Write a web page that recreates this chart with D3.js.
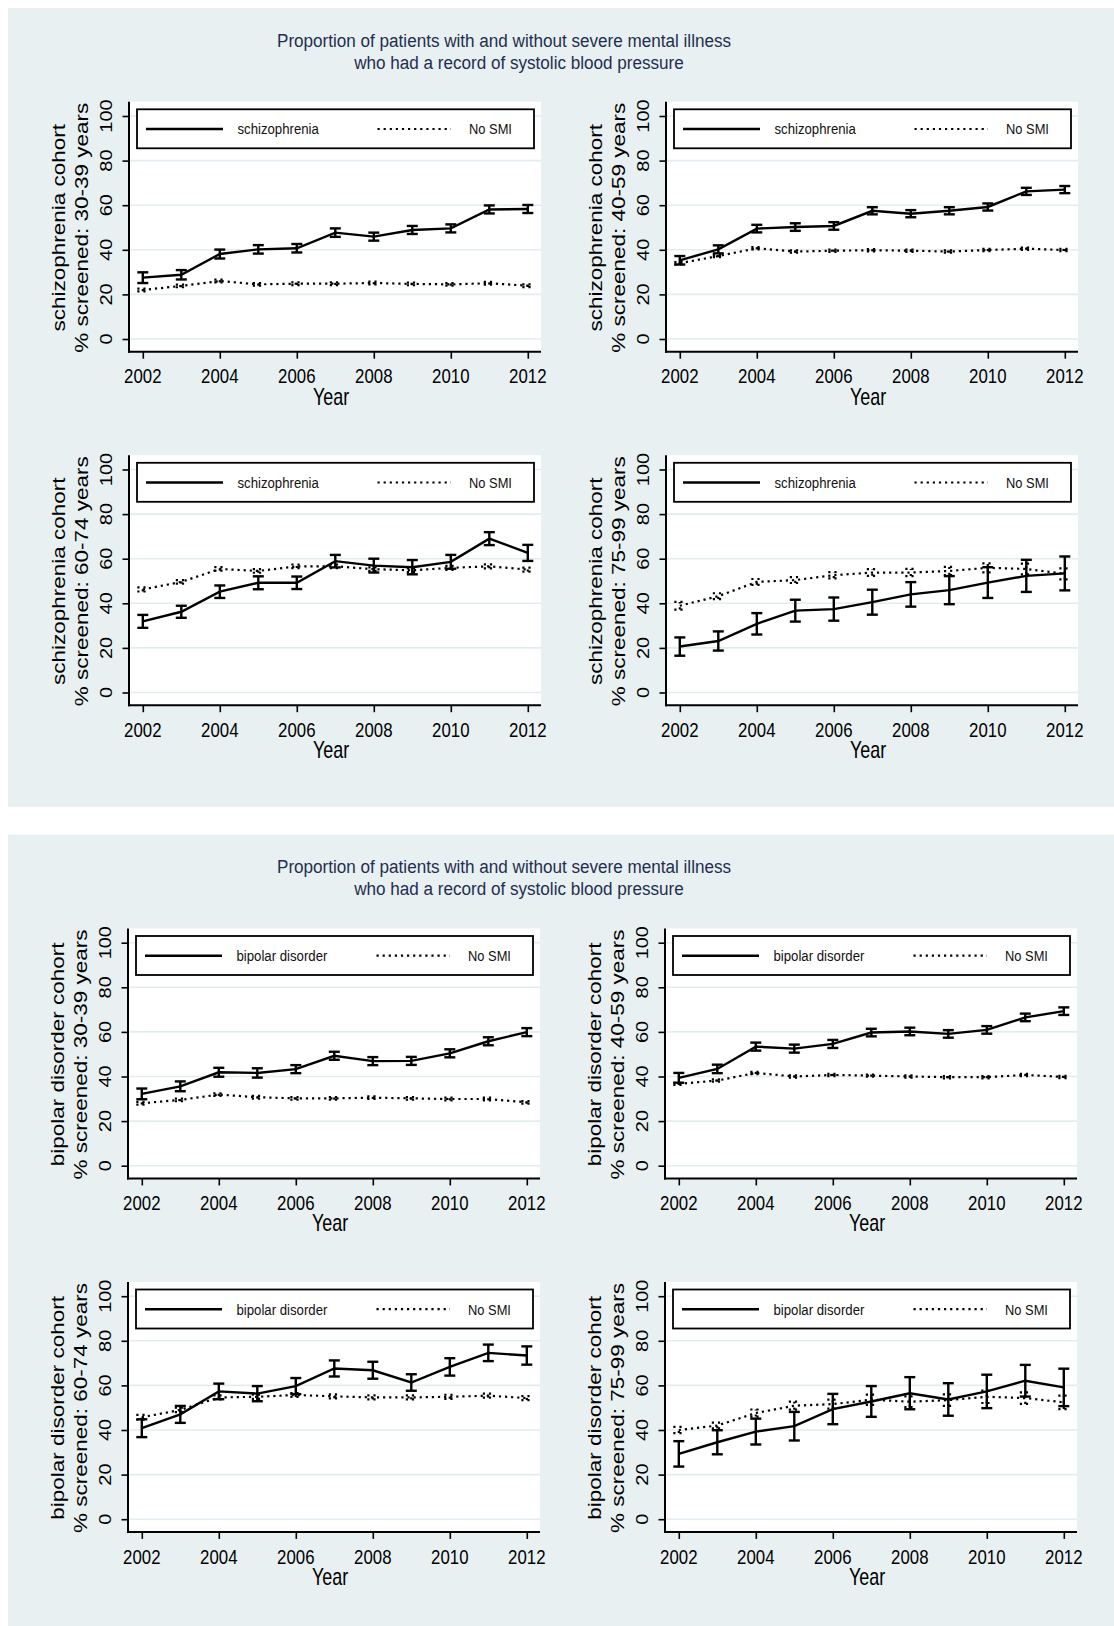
<!DOCTYPE html>
<html><head><meta charset="utf-8">
<script src="https://cdn.jsdelivr.net/npm/d3@7"></script>
<style>body{margin:0;background:#fff}svg{display:block}text{font-family:"Liberation Sans",Arial,sans-serif}</style>
</head><body><svg id="c" width="1114" height="1626"></svg>
<script>
// ---------------- data ----------------
const years = [2002, 2003, 2004, 2005, 2006, 2007, 2008, 2009, 2010, 2011, 2012];
const xTickValues = [2002, 2004, 2006, 2008, 2010, 2012];
const yTickValues = [0, 20, 40, 60, 80, 100];
const titleLines = ["Proportion of patients with and without severe mental illness",
                    "who had a record of systolic blood pressure"];
const conditions = ["schizophrenia", "bipolar disorder"];
const comparisonLabel = "No SMI";
const ageGroups = ["30-39", "40-59", "60-74", "75-99"];
const xTitle = "Year";

// schizophrenia cohort (% screened) and 95% CI half-widths
const schiz3039 = [27.5, 28.8, 38.1, 40.2, 40.7, 47.7, 45.9, 48.9, 49.6, 58.1, 58.3];
const schiz3039Err = [2.4, 2.1, 2.0, 1.9, 1.9, 1.9, 1.8, 1.8, 1.8, 1.8, 1.8];
const noSmiSchiz3039 = [22.0, 23.8, 26.0, 24.5, 24.8, 24.8, 25.1, 24.7, 24.5, 25.0, 23.9];
const noSmiSchiz3039Err = [0.6, 0.6, 0.6, 0.6, 0.6, 0.6, 0.6, 0.6, 0.6, 0.6, 0.6];

const schiz4059 = [35.3, 40.2, 49.5, 50.2, 50.7, 57.5, 56.2, 57.5, 59.2, 66.2, 67.0];
const schiz4059Err = [1.9, 1.8, 1.7, 1.7, 1.7, 1.6, 1.6, 1.6, 1.6, 1.6, 1.6];
const noSmiSchiz4059 = [34.0, 37.2, 40.7, 39.2, 39.6, 39.8, 39.6, 39.2, 39.9, 40.5, 39.9];
const noSmiSchiz4059Err = [0.5, 0.5, 0.5, 0.5, 0.5, 0.5, 0.5, 0.5, 0.5, 0.5, 0.5];

const schiz6074 = [31.9, 36.2, 45.2, 49.2, 49.2, 58.9, 56.9, 56.2, 58.6, 69.0, 62.6];
const schiz6074Err = [2.9, 2.7, 2.8, 2.9, 2.8, 2.8, 3.1, 3.2, 3.1, 2.9, 3.6];
const noSmiSchiz6074 = [46.2, 49.6, 55.4, 54.5, 56.6, 56.6, 55.3, 54.8, 55.9, 56.6, 55.1];
const noSmiSchiz6074Err = [0.9, 0.8, 0.8, 0.8, 0.8, 0.8, 0.8, 0.8, 0.9, 0.9, 0.9];

const schiz7599 = [20.6, 23.1, 30.8, 36.7, 37.4, 40.5, 44.0, 45.9, 49.3, 52.3, 53.4];
const schiz7599Err = [4.1, 4.3, 4.8, 4.9, 5.2, 5.6, 5.5, 6.3, 6.9, 7.2, 7.6];
const noSmiSchiz7599 = [38.9, 43.2, 49.6, 50.4, 52.6, 53.8, 53.8, 54.5, 55.9, 55.4, 53.2];
const noSmiSchiz7599Err = [1.7, 1.3, 1.3, 1.3, 1.4, 1.5, 1.6, 1.8, 2.0, 2.4, 2.5];

// bipolar disorder cohort
const bipolar3039 = [32.2, 35.6, 41.9, 41.6, 43.3, 49.3, 46.9, 47.0, 50.4, 55.8, 59.9];
const bipolar3039Err = [2.4, 2.2, 2.0, 2.1, 1.8, 1.8, 1.8, 1.8, 1.8, 1.8, 1.8];
const noSmiBipolar3039 = [28.0, 29.5, 31.9, 30.7, 30.2, 30.2, 30.5, 30.2, 29.9, 29.9, 28.4];
const noSmiBipolar3039Err = [0.6, 0.6, 0.6, 0.6, 0.6, 0.6, 0.6, 0.6, 0.6, 0.6, 0.6];

const bipolar4059 = [39.4, 43.4, 53.4, 52.5, 54.6, 59.7, 60.2, 59.1, 60.9, 66.5, 69.3];
const bipolar4059Err = [2.2, 1.9, 1.8, 1.8, 1.8, 1.7, 1.7, 1.7, 1.7, 1.7, 1.7];
const noSmiBipolar4059 = [36.7, 38.2, 41.6, 40.0, 40.7, 40.4, 40.0, 39.7, 39.7, 40.7, 39.8];
const noSmiBipolar4059Err = [0.5, 0.5, 0.5, 0.5, 0.5, 0.5, 0.5, 0.5, 0.5, 0.5, 0.5];

const bipolar6074 = [40.8, 47.0, 57.3, 56.3, 59.7, 67.6, 66.8, 61.3, 68.3, 74.6, 73.4];
const bipolar6074Err = [4.0, 3.8, 3.5, 3.4, 3.6, 3.6, 3.8, 3.7, 3.9, 3.7, 4.1];
const noSmiBipolar6074 = [45.7, 49.0, 54.6, 54.9, 55.7, 55.1, 54.6, 54.6, 54.9, 55.4, 54.3];
const noSmiBipolar6074Err = [1.1, 1.0, 0.9, 0.9, 0.9, 0.9, 0.9, 0.9, 0.9, 0.9, 0.9];

const bipolar7599 = [29.3, 34.5, 39.3, 41.7, 49.4, 52.8, 56.5, 53.7, 57.3, 62.1, 59.1];
const bipolar7599Err = [5.7, 5.4, 5.8, 6.4, 6.8, 6.9, 7.2, 7.3, 7.5, 7.1, 8.4];
const noSmiBipolar7599 = [40.0, 42.0, 47.6, 50.9, 51.6, 53.6, 52.7, 53.4, 54.9, 54.3, 52.4];
const noSmiBipolar7599Err = [1.4, 1.3, 1.6, 1.8, 2.0, 2.3, 2.4, 2.6, 2.8, 2.6, 3.0];

// ---------------- layout ----------------
const svg = d3.select('#c');
const BG = '#e8f0f2', GRID = '#e3ecef', TITLE_COL = '#1f2e4f';
const PW = 412, PH = 250;
const DOT = '2.2,3.9';

function hText(parent, x, y, str, size, sx, anchor, fill) {
  return parent.append('text')
    .attr('transform', `translate(${x},${y}) scale(${sx},1)`)
    .attr('text-anchor', anchor).attr('font-size', size).attr('fill', fill || '#000').text(str);
}
function vText(parent, x, y, str, size, sx, fill) {
  return parent.append('text')
    .attr('transform', `translate(${x},${y}) scale(${sx},1) rotate(-90)`)
    .attr('text-anchor', 'middle').attr('dy', '0.35em')
    .attr('font-size', size).attr('fill', fill || '#000').text(str);
}

function panel(L, T, condition, age, smi, smiErr, nos, nosErr) {
  const g = svg.append('g');
  const x = d3.scaleLinear().domain([2002, 2012]).range([L + 13.8, L + 398.8]);
  const y = d3.scaleLinear().domain([0, 100]).range([T + 237.3, T + 14.3]);

  g.append('rect').attr('x', L).attr('y', T).attr('width', PW).attr('height', PH).attr('fill', '#fff');
  // gridlines
  g.selectAll('.grid').data(yTickValues).join('line')
    .attr('x1', L).attr('x2', L + PW).attr('y1', d => y(d)).attr('y2', d => y(d))
    .attr('stroke', GRID).attr('stroke-width', 1.6);

  // y axis ticks
  const ya = g.append('g').attr('transform', `translate(${L},0)`)
    .call(d3.axisLeft(y).tickValues(yTickValues).tickSize(6.5).tickSizeOuter(0).tickFormat(''));
  ya.select('.domain').remove();
  ya.selectAll('line').attr('stroke', '#000').attr('stroke-width', 1.6);
  // x axis ticks
  const xa = g.append('g').attr('transform', `translate(0,${T + PH})`)
    .call(d3.axisBottom(x).tickValues(xTickValues).tickSize(7).tickSizeOuter(0).tickFormat(''));
  xa.select('.domain').remove();
  xa.selectAll('line').attr('stroke', '#000').attr('stroke-width', 1.6);

  // axis lines
  g.append('line').attr('x1', L).attr('x2', L).attr('y1', T).attr('y2', T + PH + 1)
    .attr('stroke', '#000').attr('stroke-width', 2);
  g.append('line').attr('x1', L - 1).attr('x2', L + PW).attr('y1', T + PH).attr('y2', T + PH)
    .attr('stroke', '#000').attr('stroke-width', 2);

  // tick labels
  yTickValues.forEach(v => vText(g, L - 23, y(v), v, 20, 0.84));
  xTickValues.forEach(v => hText(g, x(v), T + 281.6, v, 21, 0.8, 'middle'));
  hText(g, L + 202, T + 303, xTitle, 23, 0.78, 'middle');
  vText(g, L - 70.2, T + 126, `${condition} cohort`, 22.5, 0.84);
  vText(g, L - 47.5, T + 126, `% screened: ${age} years`, 22.5, 0.84);

  // legend
  const lg = g.append('g');
  lg.append('rect').attr('x', L + 8).attr('y', T + 7.6).attr('width', 397).attr('height', 39)
    .attr('fill', '#fff').attr('stroke', '#000').attr('stroke-width', 1.8);
  const ly = T + 27.3;
  lg.append('line').attr('x1', L + 17).attr('x2', L + 94).attr('y1', ly).attr('y2', ly)
    .attr('stroke', '#000').attr('stroke-width', 2.5);
  hText(lg, L + 108.5, ly + 5.3, condition, 15, 0.88, 'start', '#111');
  lg.append('line').attr('x1', L + 248.5).attr('x2', L + 322).attr('y1', ly).attr('y2', ly)
    .attr('stroke', '#000').attr('stroke-width', 2.2).attr('stroke-dasharray', DOT);
  hText(lg, L + 340, ly + 5.3, comparisonLabel, 15, 0.86, 'start', '#111');

  const line = d3.line().x((d, i) => x(years[i])).y(d => y(d));
  function series(vals, errs, dashed, w) {
    const s = g.append('g').attr('stroke', '#000').attr('fill', 'none').attr('stroke-width', w);
    if (dashed) s.attr('stroke-dasharray', DOT);
    s.append('path').attr('d', line(vals));
    const eb = s.selectAll('.eb').data(vals).join('g');
    eb.append('line').attr('x1', (d, i) => x(years[i])).attr('x2', (d, i) => x(years[i]))
      .attr('y1', (d, i) => y(d - errs[i])).attr('y2', (d, i) => y(d + errs[i]));
    eb.append('line').attr('x1', (d, i) => x(years[i]) - 5.5).attr('x2', (d, i) => x(years[i]) + 5.5)
      .attr('y1', (d, i) => y(d - errs[i])).attr('y2', (d, i) => y(d - errs[i]));
    eb.append('line').attr('x1', (d, i) => x(years[i]) - 5.5).attr('x2', (d, i) => x(years[i]) + 5.5)
      .attr('y1', (d, i) => y(d + errs[i])).attr('y2', (d, i) => y(d + errs[i]));
  }
  series(nos, nosErr, true, 2.2);
  series(smi, smiErr, false, 2.4);
}

const figures = [
  { top: 8, bottom: 807, lefts: [129, 666], condition: conditions[0],
    data: [[schiz3039, schiz3039Err, noSmiSchiz3039, noSmiSchiz3039Err],
           [schiz4059, schiz4059Err, noSmiSchiz4059, noSmiSchiz4059Err],
           [schiz6074, schiz6074Err, noSmiSchiz6074, noSmiSchiz6074Err],
           [schiz7599, schiz7599Err, noSmiSchiz7599, noSmiSchiz7599Err]] },
  { top: 834.7, bottom: 1626, lefts: [128, 665], condition: conditions[1],
    data: [[bipolar3039, bipolar3039Err, noSmiBipolar3039, noSmiBipolar3039Err],
           [bipolar4059, bipolar4059Err, noSmiBipolar4059, noSmiBipolar4059Err],
           [bipolar6074, bipolar6074Err, noSmiBipolar6074, noSmiBipolar6074Err],
           [bipolar7599, bipolar7599Err, noSmiBipolar7599, noSmiBipolar7599Err]] }
];

figures.forEach(f => {
  svg.append('rect').attr('x', 8).attr('y', f.top).attr('width', 1114 - 8)
    .attr('height', f.bottom - f.top).attr('fill', BG);
  hText(svg, 504, f.top + 38.6, titleLines[0], 19, 0.9, 'middle', TITLE_COL);
  hText(svg, 519, f.top + 60.6, titleLines[1], 19, 0.9, 'middle', TITLE_COL);
  ageGroups.forEach((age, k) => {
    const col = k % 2, row = Math.floor(k / 2);
    const L = f.lefts[col];
    const T = f.top + 93.7 + row * 353.5;
    const d = f.data[k];
    panel(L, T, f.condition, age, d[0], d[1], d[2], d[3]);
  });
});
</script></body></html>
